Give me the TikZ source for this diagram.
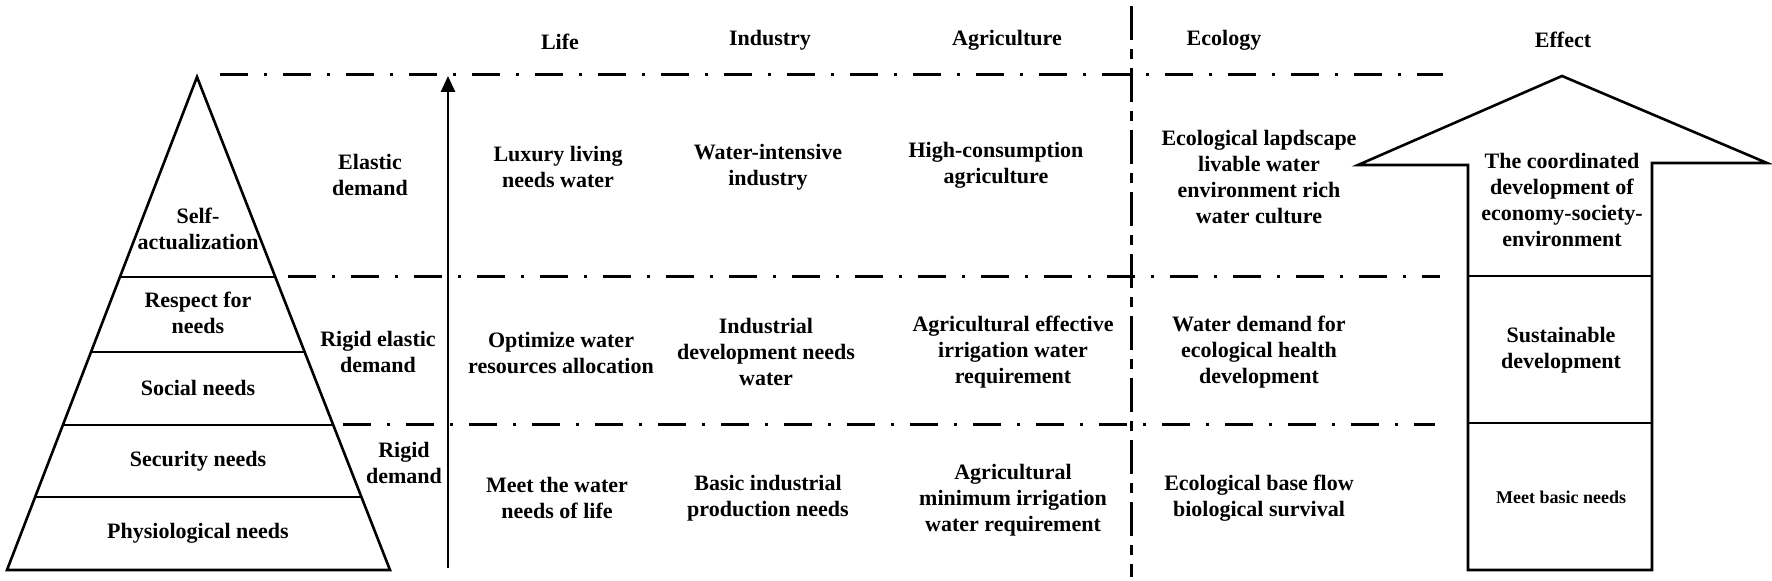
\documentclass[tikz,border=0pt]{standalone}
\usepackage{fontspec}
\setmainfont{Liberation Serif}
\usetikzlibrary{arrows.meta}
\tikzset{
  lbl/.style={font=\bfseries\fontsize{11}{13}\selectfont, align=center, inner sep=0pt},
  small/.style={font=\bfseries\fontsize{9}{11}\selectfont, align=center, inner sep=0pt},
  solid line/.style={line width=1.3pt, line join=miter},
  dashdot line/.style={line width=1.5pt, dash pattern=on 14pt off 8pt on 1.5pt off 8pt},
  vdashdot line/.style={line width=1.5pt, dash pattern=on 17pt off 4.5pt on 5pt off 4.5pt},
}
\begin{document}
\begin{tikzpicture}[x=0.5pt, y=-0.5pt]
\useasboundingbox (0,0) rectangle (1772,581);
\fill[white] (0,0) rectangle (1772,581);

% pyramid
\coordinate (apex) at (197,77);
\coordinate (bl) at (7,570);
\coordinate (br) at (390,570);
\draw[solid line] (apex) -- (br) -- (bl) -- cycle;
\draw[solid line] (119.9,277) -- (275.3,277);
\draw[solid line] (91,352) -- (304.7,352);
\draw[solid line] (62.9,425) -- (333.2,425);
\draw[solid line] (35.1,497) -- (361.4,497);

\node[lbl] (selfact) at (198,229) {Self-\\actualization};
\node[lbl] (respect) at (198,313) {Respect for\\needs};
\node[lbl] (social) at (198,388) {Social needs};
\node[lbl] (security) at (198,461) {Security needs};
\node[lbl] (physio) at (198,533) {Physiological needs};

% demand labels
\node[lbl] (elastic) at (370,175) {Elastic\\demand};
\node[lbl] (rigidel) at (378,352) {Rigid elastic\\demand};
\node[lbl] (rigid) at (404,463) {Rigid\\demand};

% dash-dot lines
\draw[dashdot line] (220,75) -- (1443,75);
\draw[dashdot line] (288,277) -- (1440,277);
\draw[dashdot line] (343,425) -- (1435,425);
\draw[vdashdot line] (1131,6) -- (1131,577);

% vertical arrow
\coordinate (ab) at (448,568);
\coordinate (at) at (448,76);
\draw[line width=1.3pt, -{Triangle[width=7pt,length=8pt]}] (ab) -- (at);

% headers
\node[lbl] (hlife) at (560,42) {Life};
\node[lbl] (hind) at (770,40) {Industry};
\node[lbl] (hagr) at (1007,40) {Agriculture};
\node[lbl] (heco) at (1224,40) {Ecology};
\node[lbl] (heff) at (1563,40) {Effect};

% row 1
\node[lbl] (r1a) at (558,167) {Luxury living\\needs water};
\node[lbl] (r1b) at (768,167) {Water-intensive\\industry};
\node[lbl] (r1c) at (996,165) {High-consumption\\agriculture};
\node[lbl] (r1d) at (1259,177) {Ecological lapdscape\\livable water\\environment rich\\water culture};

% row 2
\node[lbl] (r2a) at (561,353) {Optimize water\\resources allocation};
\node[lbl] (r2b) at (766,352) {Industrial\\development needs\\water};
\node[lbl] (r2c) at (1013,352) {Agricultural effective\\irrigation water\\requirement};
\node[lbl] (r2d) at (1259,352) {Water demand for\\ecological health\\development};

% row 3
\node[lbl] (r3a) at (557,498) {Meet the water\\needs of life};
\node[lbl] (r3b) at (768,498) {Basic industrial\\production needs};
\node[lbl] (r3c) at (1013,500) {Agricultural\\minimum irrigation\\water requirement};
\node[lbl] (r3d) at (1259,498) {Ecological base flow\\biological survival};

% big arrow
\draw[solid line] (1358,165) -- (1562,76) -- (1767,163) -- (1652,163) -- (1652,570) -- (1468,570) -- (1468,165) -- cycle;
\draw[solid line] (1468,276) -- (1652,276);
\draw[solid line] (1468,423) -- (1652,423);
\node[lbl] (e1) at (1562,200) {The coordinated\\development of\\economy-society-\\environment};
\node[lbl] (e2) at (1561,350) {Sustainable\\development};
\node[small] (e3) at (1561,497) {Meet basic needs};
\end{tikzpicture}
\end{document}
